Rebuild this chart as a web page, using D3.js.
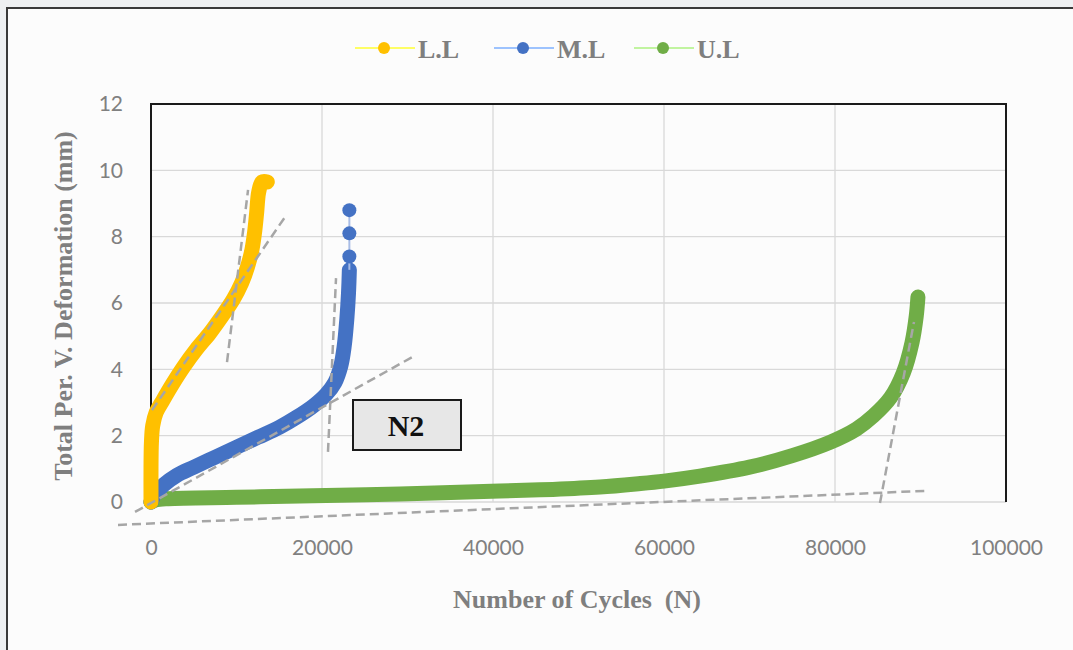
<!DOCTYPE html>
<html>
<head>
<meta charset="utf-8">
<script src="https://cdn.jsdelivr.net/npm/d3@7"></script>
<style>
	body { margin: 0; background: #eef0f2; }
	svg { display: block; }
</style>
</head>
<body>
<svg id="chart" width="1073" height="650"></svg>
<script>
// values
var xTicks = [0, 20000, 40000, 60000, 80000, 100000];
var yTicks = [0, 2, 4, 6, 8, 10, 12];
var seriesNames = ["L.L", "M.L", "U.L"];
var seriesColors = ["#ffc000", "#4472c4", "#70ad47"];

var LL_N = [0, 0, 50, 200, 600, 1400, 2500, 3800, 5300, 6900, 8300, 9600, 10600, 11300, 11800, 12100, 12350, 12600, 13000, 13600];
var LL_D = [0, 1.0, 1.8, 2.3, 2.7, 3.07, 3.55, 4.07, 4.6, 5.1, 5.6, 6.1, 6.6, 7.1, 7.6, 8.1, 8.7, 9.35, 9.65, 9.65];

var ML_N = [0, 500, 1500, 3000, 5000, 7500, 10000, 12500, 15000, 17000, 19000, 20500, 21500, 22200, 22600, 22900, 23100, 23200];
var ML_D = [0, 0.25, 0.52, 0.8, 1.05, 1.35, 1.65, 1.95, 2.25, 2.55, 2.9, 3.25, 3.6, 4.1, 4.7, 5.5, 6.3, 7.0];
var ML_tailN = [23200, 23200, 23200];
var ML_tailD = [7.4, 8.1, 8.8];

var UL_N = [0, 500, 2000, 10000, 17400, 29100, 40800, 47000, 52500, 57000, 60000, 64200, 70000, 75000, 79400, 82500, 84500, 86500, 88000, 89000, 89500, 89700];
var UL_D = [0, 0.06, 0.1, 0.14, 0.18, 0.24, 0.33, 0.38, 0.45, 0.55, 0.63, 0.78, 1.05, 1.4, 1.8, 2.2, 2.6, 3.15, 3.9, 4.8, 5.6, 6.18];

// dashed tangent lines [N1, D1, N2, D2]
var tangents = [
	[-3860, -0.69, 90900, 0.34],
	[85260, -0.03, 89240, 5.43],
	[8890, 4.22, 11350, 9.41],
	[117, 2.77, 15670, 8.59],
	[20700, 1.51, 21640, 6.75],
	[-1870, -0.30, 30760, 4.40]
];

var svg = d3.select("#chart");
var W = 1073, H = 650;
var plot = {left: 151, right: 1006, top: 104, bottom: 502};
var serif = "'Liberation Serif', 'Times New Roman', serif";

// panel
svg.append("rect").attr("x", 7).attr("y", 8).attr("width", W).attr("height", H)
	.attr("fill", "#fcfcfc").attr("stroke", "#3a3a3a").attr("stroke-width", 2);

var x = d3.scaleLinear().domain([0, 100000]).range([plot.left, plot.right]);
var y = d3.scaleLinear().domain([0, 12]).range([plot.bottom, plot.top]);

// grid
svg.append("g").selectAll("line").data(yTicks).enter().append("line")
	.attr("x1", plot.left).attr("x2", plot.right)
	.attr("y1", function(d) { return y(d); }).attr("y2", function(d) { return y(d); })
	.attr("stroke", "#d9d9d9").attr("stroke-width", 1.3);
svg.append("g").selectAll("line").data(xTicks).enter().append("line")
	.attr("y1", plot.top).attr("y2", plot.bottom)
	.attr("x1", function(d) { return x(d); }).attr("x2", function(d) { return x(d); })
	.attr("stroke", "#d9d9d9").attr("stroke-width", 1.3);

// frame (left, top, right)
svg.append("path")
	.attr("d", "M" + plot.left + "," + plot.bottom + "V" + plot.top + "H" + plot.right + "V" + plot.bottom)
	.attr("fill", "none").attr("stroke", "#1a1a1a").attr("stroke-width", 2);

// axes
var xAxis = d3.axisBottom(x).tickValues(xTicks).tickSize(0).tickPadding(0).tickFormat(d3.format("d"));
var gx = svg.append("g").attr("transform", "translate(0," + (plot.bottom + 38) + ")").call(xAxis);
var yAxis = d3.axisLeft(y).tickValues(yTicks).tickSize(0).tickPadding(28);
var gy = svg.append("g").attr("transform", "translate(" + plot.left + ",0)").call(yAxis);
[gx, gy].forEach(function(g) {
	g.select(".domain").remove();
	g.selectAll("text").attr("fill", "#808080")
		.style("font-family", "Lato, 'Open Sans', sans-serif").style("font-size", "21px");
});

// axis titles
svg.append("text").attr("x", 577).attr("y", 608).attr("text-anchor", "middle")
	.attr("fill", "#7f7f7f").style("font-family", serif)
	.style("font-weight", "bold").style("font-size", "26px").style("white-space", "pre")
	.text("Number of Cycles  (N)");
svg.append("text").attr("transform", "translate(72,306) rotate(-90)").attr("text-anchor", "middle")
	.attr("fill", "#7f7f7f").style("font-family", serif)
	.style("font-weight", "bold").style("font-size", "26px")
	.text("Total Per. V. Deformation (mm)");

// series
function pts(ns, ds) { return ns.map(function(n, i) { return [n, ds[i]]; }); }
var series = [pts(LL_N, LL_D), pts(ML_N, ML_D), pts(UL_N, UL_D)];
var line = d3.line().x(function(d) { return x(d[0]); }).y(function(d) { return y(d[1]); })
	.curve(d3.curveCatmullRom.alpha(0.5));

// draw green first, then blue, then yellow on top
[2, 1, 0].forEach(function(i) {
	var g = svg.append("g");
	g.append("path").attr("d", line(series[i])).attr("fill", "none")
		.attr("stroke", seriesColors[i]).attr("stroke-width", 15)
		.attr("stroke-linecap", "round").attr("stroke-linejoin", "round");
	if (i == 1) {
		var tail = [series[1][series[1].length - 1]].concat(pts(ML_tailN, ML_tailD));
		g.append("path").attr("d", d3.line().x(function(d) { return x(d[0]); }).y(function(d) { return y(d[1]); })(tail))
			.attr("fill", "none").attr("stroke", "#a9bde6").attr("stroke-width", 2);
		g.selectAll("circle").data(pts(ML_tailN, ML_tailD)).enter().append("circle")
			.attr("cx", function(d) { return x(d[0]); }).attr("cy", function(d) { return y(d[1]); })
			.attr("r", 7).attr("fill", seriesColors[1]);
	}
});

// tangents
svg.append("g").selectAll("line").data(tangents).enter().append("line")
	.attr("x1", function(d) { return x(d[0]); }).attr("y1", function(d) { return y(d[1]); })
	.attr("x2", function(d) { return x(d[2]); }).attr("y2", function(d) { return y(d[3]); })
	.attr("stroke", "#a6a6a6").attr("stroke-width", 2.5).attr("stroke-dasharray", "9,5");

// N2 label box
svg.append("rect").attr("x", 353).attr("y", 400).attr("width", 108).attr("height", 50)
	.attr("fill", "#e7e7e7").attr("stroke", "#1a1a1a").attr("stroke-width", 2);
svg.append("text").attr("x", 406).attr("y", 436).attr("text-anchor", "middle")
	.attr("fill", "#111").style("font-family", serif)
	.style("font-weight", "bold").style("font-size", "30px").text("N2");

// legend
var legX = [355, 494, 634];
var leg = svg.append("g").selectAll("g").data(seriesNames).enter().append("g")
	.attr("transform", function(d, i) { return "translate(" + legX[i] + ",48)"; });
leg.append("line").attr("x1", 0).attr("x2", 60).attr("y1", 0).attr("y2", 0)
	.attr("stroke", function(d, i) { return d3.color(seriesColors[i]).brighter(0.9); })
	.attr("stroke-opacity", 0.6).attr("stroke-width", 2);
leg.append("circle").attr("cx", 29).attr("cy", 0).attr("r", 6)
	.attr("fill", function(d, i) { return seriesColors[i]; });
leg.append("text").attr("x", 63).attr("y", 10).attr("fill", "#7f7f7f")
	.style("font-family", serif).style("font-weight", "bold")
	.style("font-size", "26px").text(function(d) { return d; });
</script>
</body>
</html>
